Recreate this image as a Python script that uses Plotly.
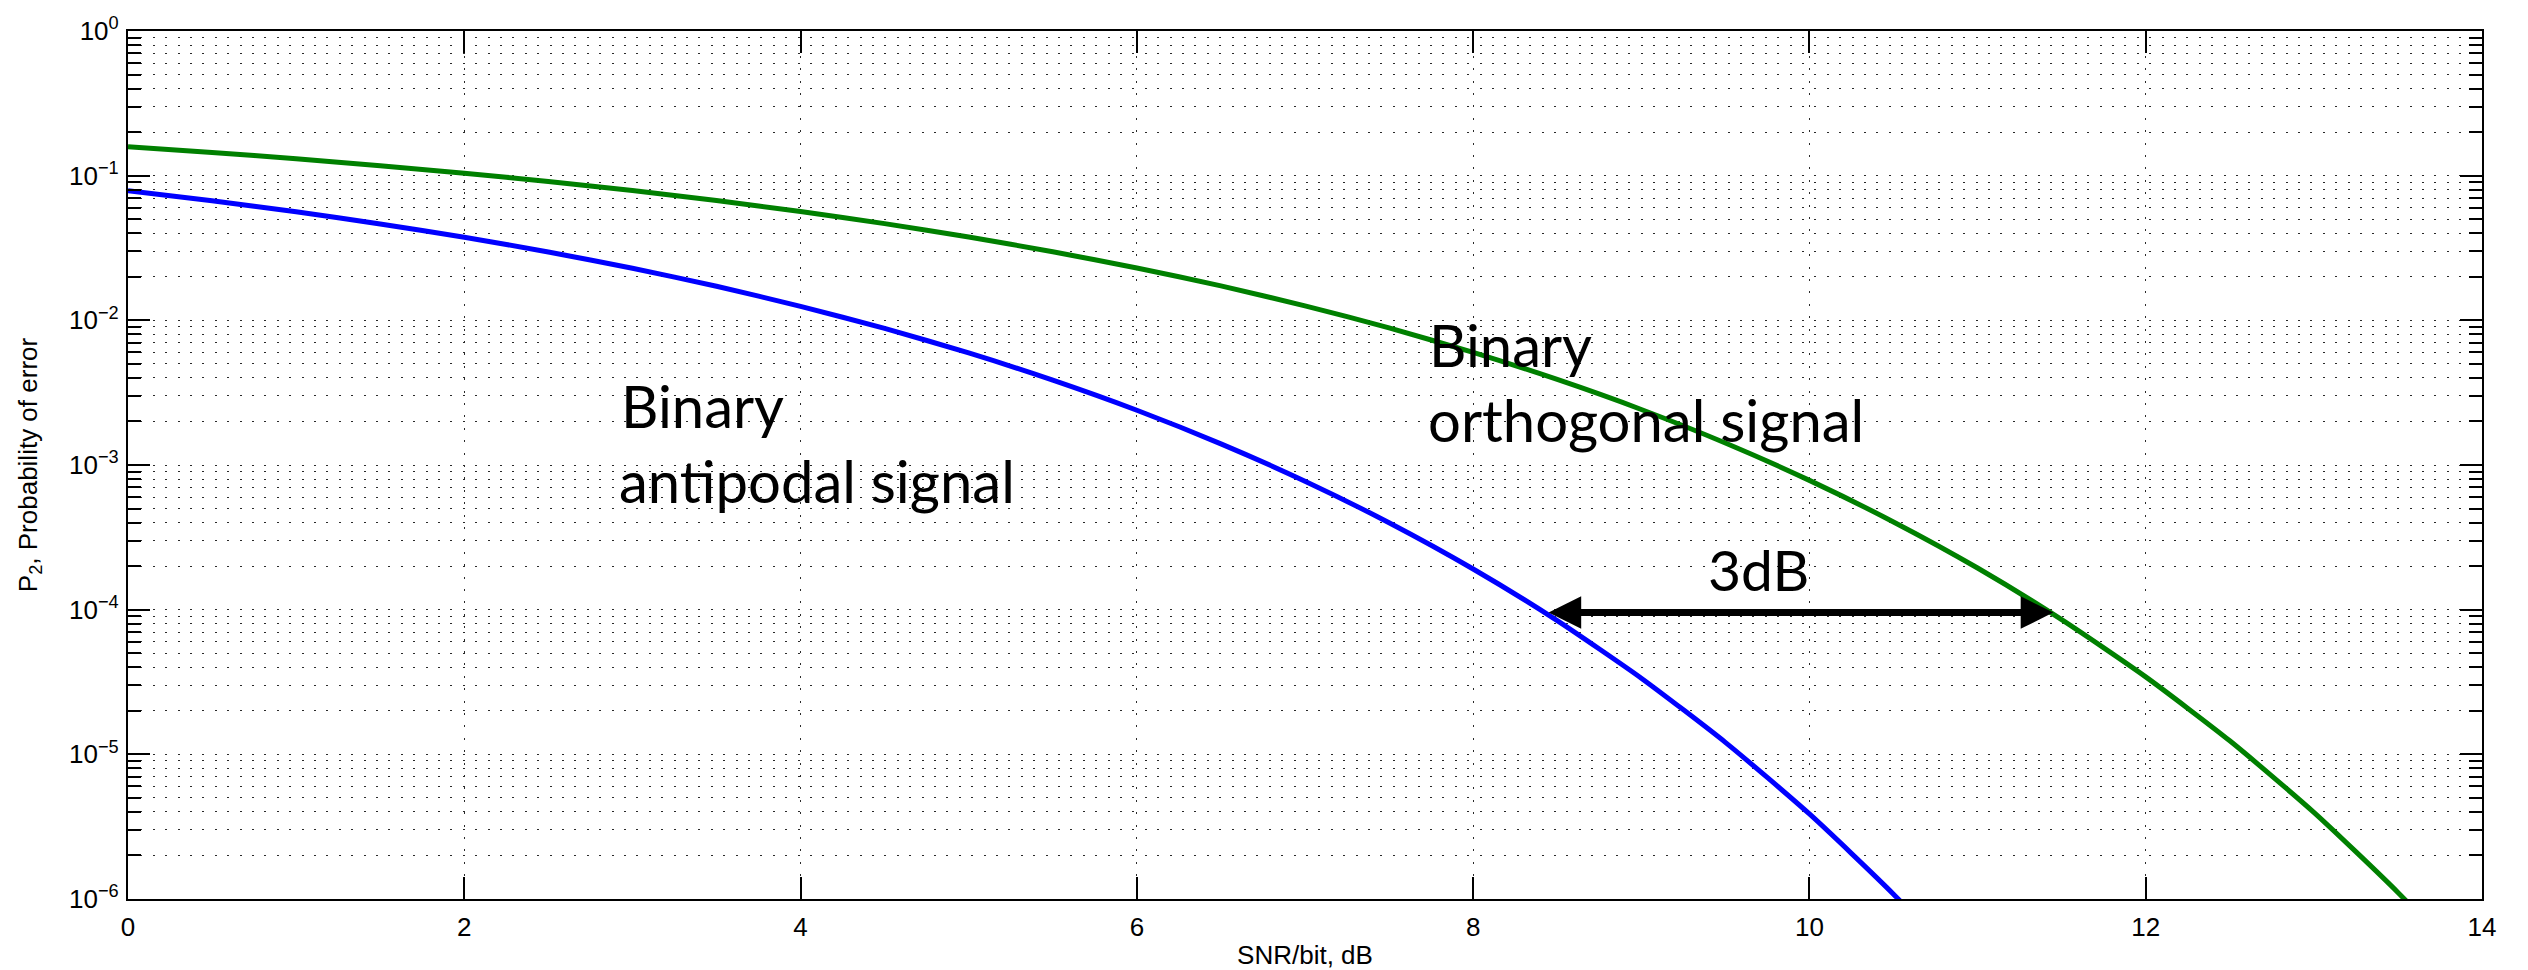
import math
import plotly.graph_objects as go

# ---- data ----
snr_db_antipodal = [0, 0.5, 1, 1.5, 2, 2.5, 3, 3.5, 4, 4.5, 5, 5.5, 6, 6.5, 7, 7.5,
                    8, 8.5, 9, 9.5, 10, 10.5, 11]
pe_antipodal = [0.0786, 0.0671, 0.0563, 0.0464, 0.0375, 0.0297, 0.0229, 0.0172,
                0.0125, 0.00879, 0.00595, 0.00386, 0.00239, 0.00140, 7.73e-4,
                3.99e-4, 1.91e-4, 8.40e-5, 3.36e-5, 1.21e-5, 3.87e-6, 1.08e-6, 2.61e-7]

snr_db_orthogonal = [0, 0.5, 1, 1.5, 2, 2.5, 3, 3.5, 4, 4.5, 5, 5.5, 6, 6.5, 7, 7.5,
                     8, 8.5, 9, 9.5, 10, 10.5, 11, 11.5, 12, 12.5, 13, 13.5, 14]
pe_orthogonal = [0.1587, 0.1448, 0.1309, 0.1172, 0.1040, 0.0912, 0.0789, 0.0673,
                 0.0565, 0.0466, 0.0377, 0.0298, 0.0230, 0.0173, 0.0126, 0.00887,
                 0.00600, 0.00390, 0.00242, 0.00142, 7.83e-4, 4.04e-4, 1.94e-4,
                 8.53e-5, 3.43e-5, 1.24e-5, 3.97e-6, 1.11e-6, 2.69e-7]

x_ticks = [0, 2, 4, 6, 8, 10, 12, 14]
y_tick_exponents = [-6, -5, -4, -3, -2, -1, 0]

arrow_start_db = 8.44
arrow_end_db = 11.45
arrow_level = 0.955e-4

# ---- figure ----
y_tickvals = [10.0 ** e for e in y_tick_exponents]
y_ticktext = ["10<sup>%s</sup>" % (str(e).replace("-", "\u2212")) for e in y_tick_exponents]
minor_vals = [m * 10.0 ** e for e in y_tick_exponents[:-1] for m in range(2, 10)]

fig = go.Figure()
fig.add_trace(go.Scatter(x=snr_db_antipodal, y=pe_antipodal, mode="lines",
                         line=dict(color="#0000FF", width=5, shape="spline", smoothing=0.6),
                         showlegend=False, hoverinfo="skip"))
fig.add_trace(go.Scatter(x=snr_db_orthogonal, y=pe_orthogonal, mode="lines",
                         line=dict(color="#008000", width=5, shape="spline", smoothing=0.6),
                         showlegend=False, hoverinfo="skip"))

GRID = dict(showgrid=True, gridcolor="#2a2a2a", gridwidth=1.3, griddash="2px,10.4px")
TICKFONT = dict(family="Liberation Sans, Arial, sans-serif", size=26, color="black")

fig.update_xaxes(range=[0, 14], tickvals=x_ticks, ticks="inside", ticklen=22, tickwidth=1.6,
                 tickcolor="black", showline=True, linecolor="black", linewidth=2.2,
                 mirror="ticks", zeroline=False, tickfont=TICKFONT, ticklabelstandoff=4,
                 title=dict(text="SNR/bit, dB", font=TICKFONT, standoff=6), **GRID)
fig.update_yaxes(type="log", range=[-6, 0], tickvals=y_tickvals, ticktext=y_ticktext,
                 ticks="inside", ticklen=22, tickwidth=1.6, tickcolor="black",
                 showline=True, linecolor="black", linewidth=2.2, mirror="ticks",
                 zeroline=False, tickfont=TICKFONT, ticklabelstandoff=2,
                 title=dict(text="P<sub>2</sub>, Probability of error", font=TICKFONT, standoff=24),
                 minor=dict(tickvals=minor_vals, ticks="inside", ticklen=13, tickwidth=1.6,
                            tickcolor="black", **GRID),
                 **GRID)

LABEL_FONT = dict(family="Lato, Open Sans, sans-serif", size=58, color="black")
PX_PER_DEC = 868 / 6.0


def baseline_to_log(px):
    return -(px - 31) / PX_PER_DEC


def add_label(text, x, baseline_px, size=58, xanchor="left"):
    f = dict(LABEL_FONT, size=size)
    fig.add_annotation(x=x, y=baseline_to_log(baseline_px), xref="x", yref="y", text=text,
                       showarrow=False, xanchor=xanchor, yanchor="bottom",
                       yshift=-(0.213 * size + 1), font=f, borderpad=0)


add_label("Binary", 2.926, 428)
add_label("antipodal signal", 2.914, 503)
add_label("Binary", 7.732, 367)
add_label("orthogonal signal", 7.726, 442)
add_label("3dB", 9.70, 591, size=57, xanchor="center")

ly = math.log10(arrow_level)
fig.add_annotation(x=arrow_end_db, y=ly, ax=arrow_start_db, ay=ly, xref="x", yref="y",
                   axref="x", ayref="y", text="", showarrow=True, arrowside="end+start",
                   arrowhead=2, startarrowhead=2, arrowsize=0.93, startarrowsize=0.93,
                   arrowwidth=7, arrowcolor="black", standoff=0, startstandoff=0)

fig.update_layout(width=2528, height=970, paper_bgcolor="white", plot_bgcolor="white",
                  margin=dict(l=128, r=46, t=31, b=71, autoexpand=False), showlegend=False)

fig.write_html("out.html", config={"displayModeBar": False},
               post_script="document.body.style.margin='0';")
